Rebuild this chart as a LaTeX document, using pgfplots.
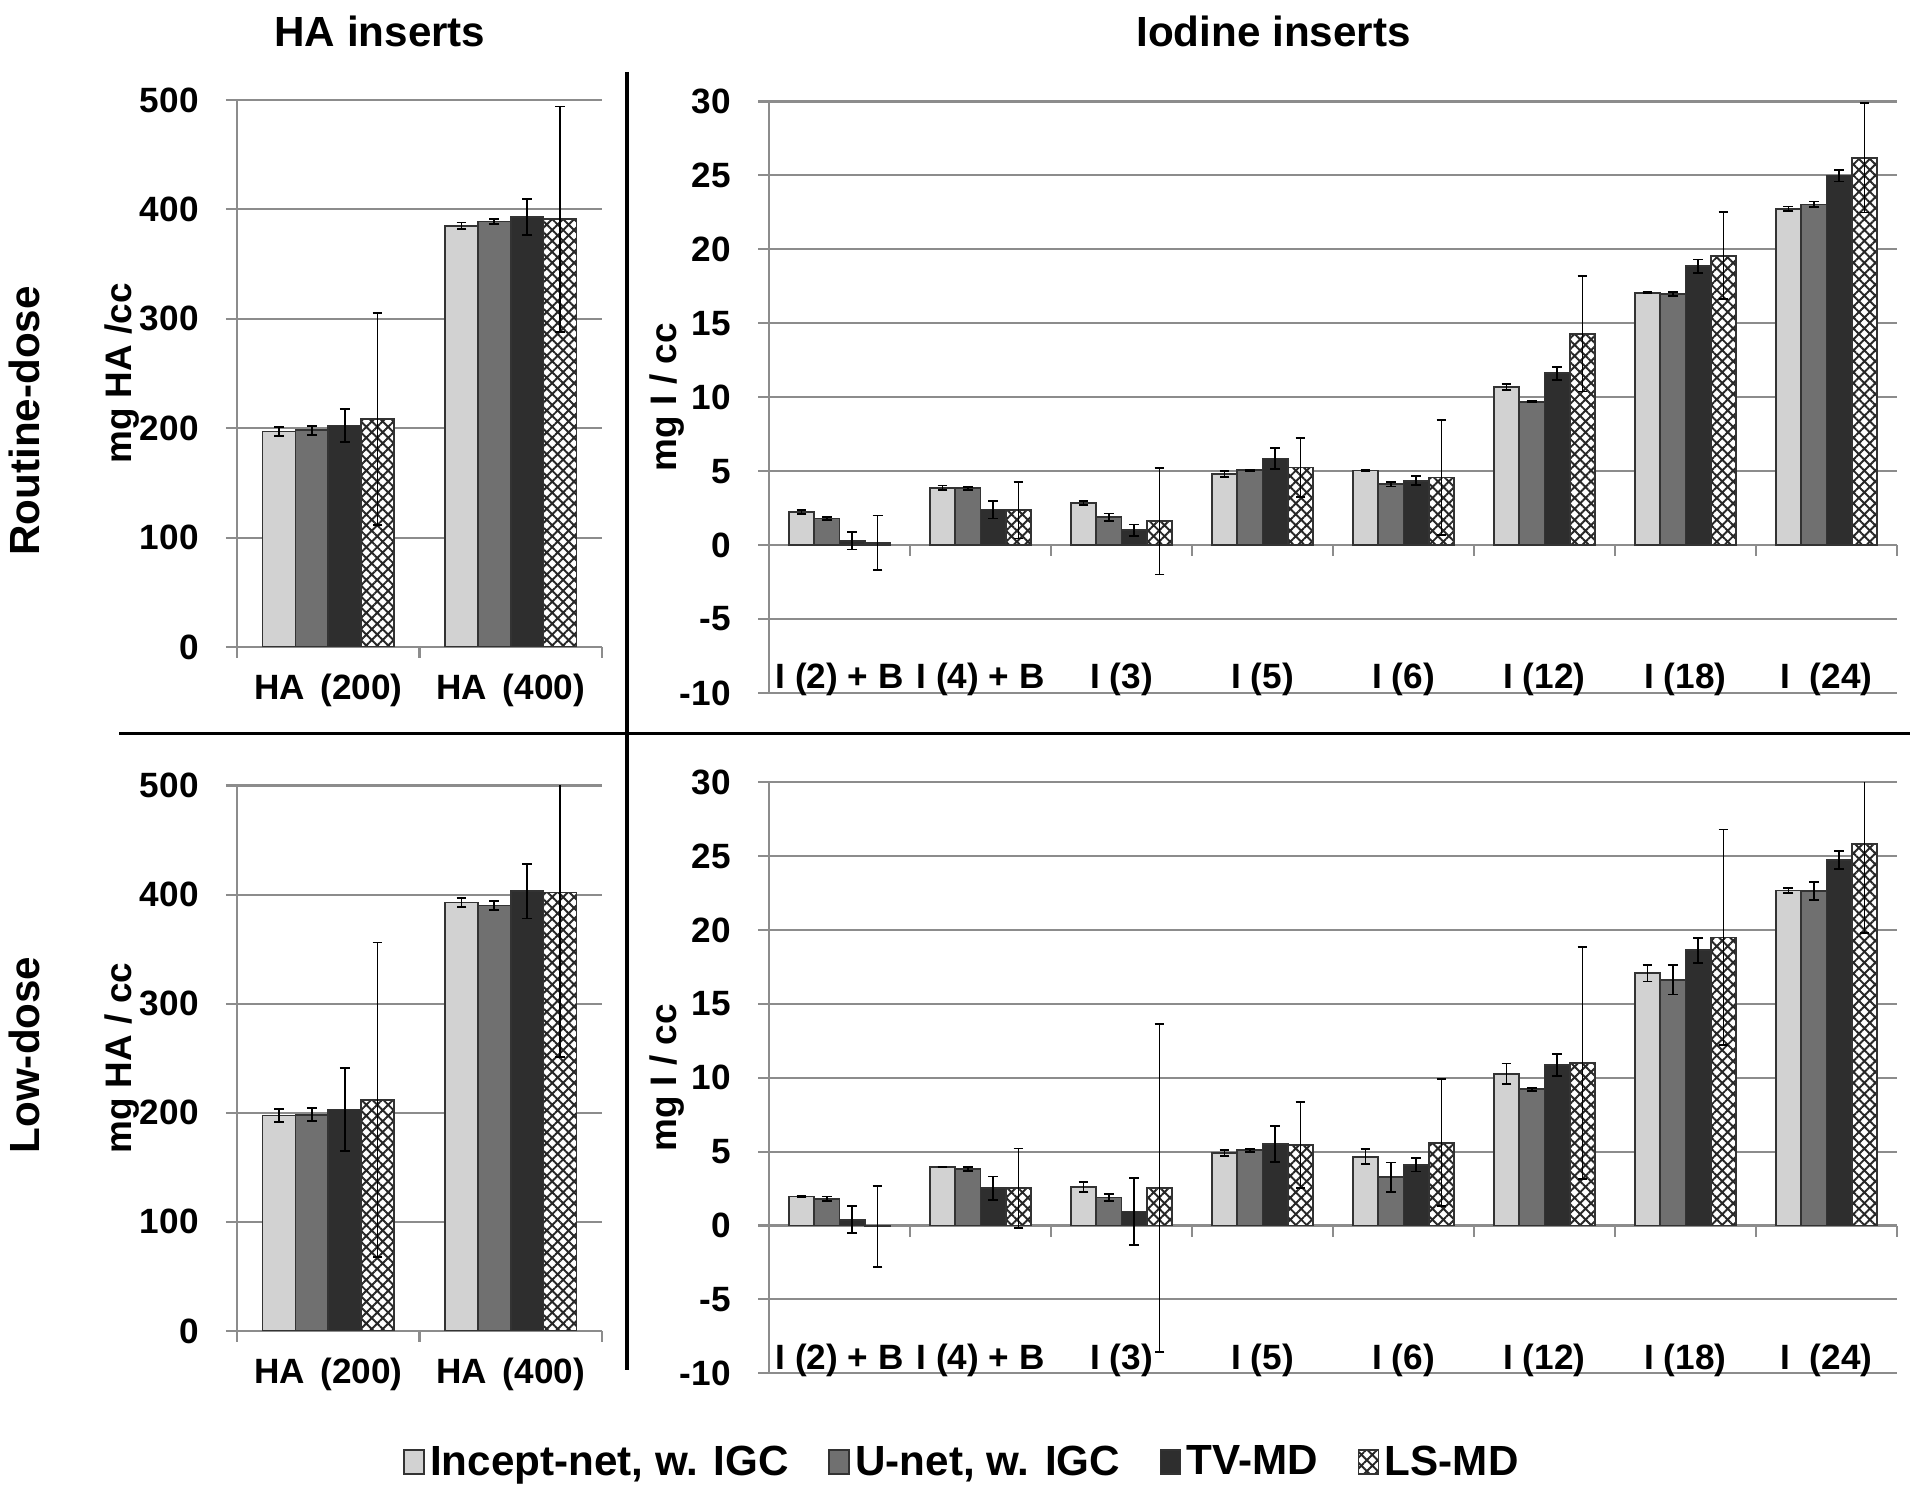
\documentclass[border=0pt]{standalone}
\usepackage{fontspec}
\setmainfont{Liberation Sans}
\usepackage{pgfplots}
\pgfplotsset{compat=1.18}
\usepackage{pgfplotstable}
\usetikzlibrary{patterns.meta}

\definecolor{cA}{HTML}{D2D2D2}
\definecolor{cB}{HTML}{707070}
\definecolor{cC}{HTML}{2E2E2E}
\definecolor{gridc}{HTML}{8C8C8C}

% Routine-dose, HA inserts
\pgfplotstableread{
x a ae b be c ce d de
0 197.0 4.0 198.0 4.0 202.5 15.0 208.5 97
1 385.0 3.0 389.0 2.5 393.0 16.5 391.0 103
}\RHA
% Routine-dose, Iodine inserts
\pgfplotstableread{
x a ae b be c ce d de
0 2.23 0.15 1.80 0.10 0.30 0.60 0.15 1.85
1 3.88 0.15 3.85 0.10 2.40 0.60 2.35 1.90
2 2.84 0.12 1.88 0.25 1.00 0.40 1.62 3.60
3 4.81 0.20 5.07 0.05 5.86 0.70 5.25 2.00
4 5.04 0.05 4.12 0.15 4.35 0.30 4.58 3.90
5 10.67 0.20 9.70 0.05 11.62 0.45 14.29 3.90
6 17.07 0.05 16.99 0.15 18.87 0.45 19.57 2.95
7 22.75 0.15 23.04 0.20 24.99 0.40 26.20 3.70
}\RI
% Low-dose, HA inserts
\pgfplotstableread{
x a ae b be c ce d de
0 197.5 6.0 198.3 6.0 203.0 38.0 212.0 144
1 392.7 4.4 390.0 4.0 403.0 25.0 402.0 151
}\LHA
% Low-dose, Iodine inserts
\pgfplotstableread{
x a ae b be c ce d de
0 1.97 0.05 1.82 0.15 0.40 0.90 -0.06 2.75
1 3.96 0.03 3.82 0.15 2.52 0.80 2.52 2.70
2 2.60 0.35 1.90 0.25 0.95 2.25 2.52 11.10
3 4.92 0.20 5.09 0.10 5.52 1.20 5.44 2.90
4 4.66 0.50 3.27 1.00 4.10 0.45 5.61 4.30
5 10.27 0.70 9.23 0.10 10.88 0.75 11.02 7.85
6 17.07 0.55 16.63 1.00 18.63 0.85 19.50 7.30
7 22.68 0.15 22.65 0.60 24.73 0.60 25.83 6.05
}\LI

\pgfplotsset{
  panel/.style={
    scale only axis, anchor=south west,
    ybar=0pt, bar width=0.18,
    axis lines*=left, separate axis lines,
    x axis line style={draw=gridc, line width=0.6pt},
    y axis line style={draw=gridc, line width=0.6pt},
    ymajorgrids, grid style={draw=gridc, line width=0.6pt},
    tick align=outside, major tick length=1.1mm,
    ytick style={draw=gridc, line width=0.6pt},
    xtick style={draw=none},
    xtick=data,
    ticklabel style={font=\bfseries\fontsize{10}{12}\selectfont},
    /pgf/number format/assume math mode=true,
    yticklabel style={xshift=-1.5mm},
    label style={font=\bfseries\fontsize{10.5}{12}\selectfont},
    clip mode=individual,
  },
  sA/.style={fill=cA, draw=black!80, line width=0.5pt},
  sB/.style={fill=cB, draw=black!80, line width=0.5pt},
  sC/.style={fill=cC, draw=black!80, line width=0.5pt},
  sD/.style={preaction={fill=white}, pattern={Hatch[angle=45,distance=2.2pt,line width=0.55pt]}, pattern color=black!85, draw=black!80, line width=0.5pt},
  eb/.style={error bars/.cd, y dir=both, y explicit,
    error bar style={line width=0.5pt, black},
    error mark options={rotate=90, mark size=1.4pt, line width=0.5pt, black}},
}

\newcommand\fourbars[1]{%
  \addplot[sA, eb] table[x=x, y=a, y error=ae] {#1};
  \addplot[sB, eb] table[x=x, y=b, y error=be] {#1};
  \addplot[sC, eb] table[x=x, y=c, y error=ce] {#1};
  \addplot[sD, eb] table[x=x, y=d, y error=de] {#1};
}

\begin{document}
\begin{tikzpicture}
\useasboundingbox (0,0) rectangle (192mm,149.3mm);

% ---- top-left
\begin{axis}[panel, at={(23.7mm,84.6mm)}, width=36.5mm, height=54.7mm,
  xmin=-0.5, xmax=1.5, ymin=0, ymax=500, ytick={0,100,...,500},
  xticklabels={HA\ \,(200), HA\ \,(400)}, xticklabel style={yshift=-1pt},
  ylabel={mg HA /cc}, ylabel style={at={(axis description cs:-0.315,0.5)}, anchor=center}]
\fourbars{\RHA}
\pgfplotsinvokeforeach{-0.5,0.5,1.5}{\draw[gridc, line width=0.6pt] (axis cs:#1,0) -- ([yshift=-1.1mm]axis cs:#1,0);}
\end{axis}

% ---- top-right
\begin{axis}[panel, at={(76.9mm,80.0mm)}, width=112.8mm, height=59.15mm,
  xmin=-0.5, xmax=7.5, ymin=-10, ymax=30, ytick={-10,-5,...,30},
  xticklabels={I (2) + B, I (4) + B, I (3), I (5), I (6), I (12), I (18), I\ \ (24)},
  xticklabel style={anchor=base, yshift=1.5mm},
  ylabel={mg I / cc}, ylabel style={at={(axis description cs:-0.0904,0.5)}, anchor=center}]
\fourbars{\RI}
\pgfplotsinvokeforeach{0.5,1.5,2.5,3.5,4.5,5.5,6.5,7.5}{\draw[gridc, line width=0.6pt] (axis cs:#1,0) -- ([yshift=-1.1mm]axis cs:#1,0);}
\end{axis}

% ---- bottom-left
\begin{axis}[panel, at={(23.7mm,16.2mm)}, width=36.5mm, height=54.55mm,
  xmin=-0.5, xmax=1.5, ymin=0, ymax=500, ytick={0,100,...,500},
  xticklabels={HA\ \,(200), HA\ \,(400)}, xticklabel style={yshift=-1pt},
  ylabel={mg HA / cc}, ylabel style={at={(axis description cs:-0.315,0.5)}, anchor=center}]
\fourbars{\LHA}
\pgfplotsinvokeforeach{-0.5,0.5,1.5}{\draw[gridc, line width=0.6pt] (axis cs:#1,0) -- ([yshift=-1.1mm]axis cs:#1,0);}
\end{axis}

% ---- bottom-right
\begin{axis}[panel, at={(76.9mm,11.97mm)}, width=112.8mm, height=59.1mm,
  xmin=-0.5, xmax=7.5, ymin=-10, ymax=30, ytick={-10,-5,...,30},
  xticklabels={I (2) + B, I (4) + B, I (3), I (5), I (6), I (12), I (18), I\ \ (24)},
  xticklabel style={anchor=base, yshift=1.5mm},
  ylabel={mg I / cc}, ylabel style={at={(axis description cs:-0.0904,0.5)}, anchor=center},
  legend columns=4,
  legend image code/.code={\draw[#1, draw=black!80, line width=0.5pt] (0mm,-1.1mm) rectangle (2mm,1.3mm);},
  legend style={at={(0.1724,-0.152)}, anchor=center, draw=none, fill=none,
    font=\bfseries\fontsize{12}{14}\selectfont,
    nodes={inner sep=0.55mm},
    /tikz/every even column/.append style={column sep=3.4mm}}]
\fourbars{\LI}
\pgfplotsinvokeforeach{0.5,1.5,2.5,3.5,4.5,5.5,6.5,7.5}{\draw[gridc, line width=0.6pt] (axis cs:#1,0) -- ([yshift=-1.1mm]axis cs:#1,0);}
\legend{{Incept-net, w. IGC},{U-net, w. IGC},{TV-MD},{LS-MD}}
\end{axis}

% ---- titles, row labels, dividers
\node[font=\bfseries\fontsize{12}{14}\selectfont] at (38.0mm,146.2mm) {HA inserts};
\node[font=\bfseries\fontsize{12}{14}\selectfont] at (127.35mm,146.2mm) {Iodine inserts};
\node[rotate=90, font=\bfseries\fontsize{12}{14}\selectfont] at (2.45mm,107.2mm) {Routine-dose};
\node[rotate=90, font=\bfseries\fontsize{12}{14}\selectfont] at (2.45mm,43.8mm) {Low-dose};
\draw[line width=1.1pt] (62.7mm,142.1mm) -- (62.7mm,12.3mm);
\draw[line width=1.1pt] (11.9mm,75.95mm) -- (191.0mm,75.95mm);
\end{tikzpicture}
\end{document}
